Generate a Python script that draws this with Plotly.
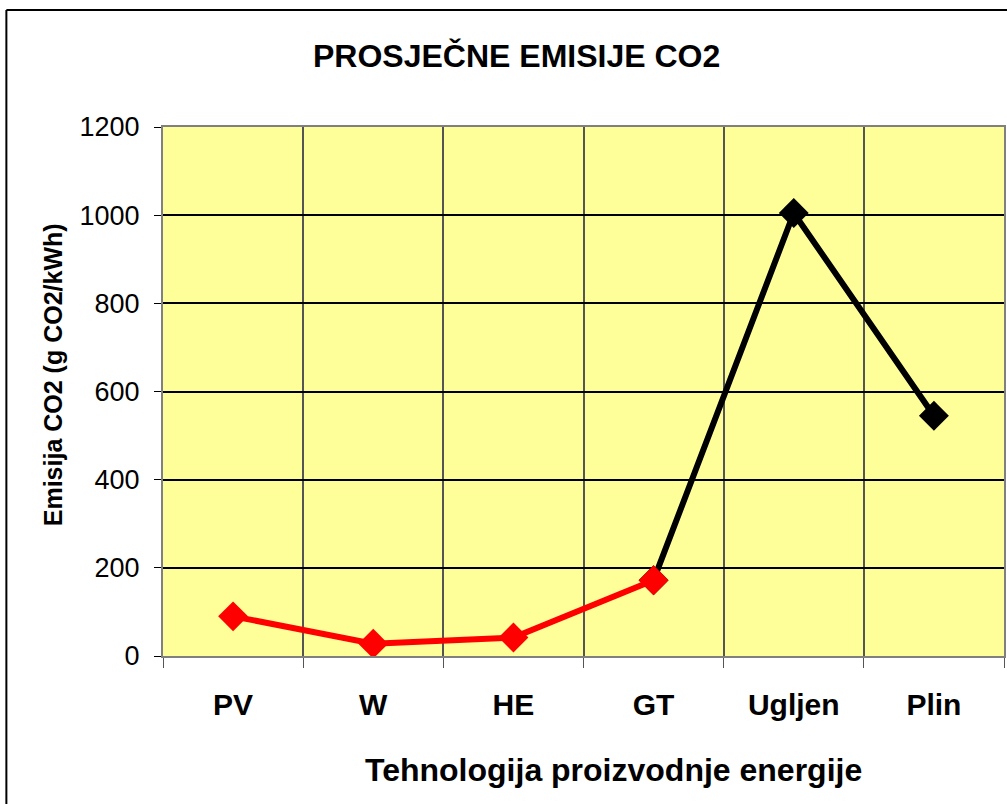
import plotly.graph_objects as go

categories = ["PV", "W", "HE", "GT", "Ugljen", "Plin"]
emisije_obnovljivi = [90, 28, 42, 172, None, None]
emisije_fosilni = [None, None, None, 172, 1005, 545]
y_ticks = [0, 200, 400, 600, 800, 1000, 1200]

W, H = 1007, 804
L, R, T, B = 163, 1006, 127, 656
font = "Liberation Sans, Arial, sans-serif"


def px_x(p):
    return (p - L) / (R - L)


def px_y(p):
    return (B - p) / (B - T)


fig = go.Figure()
fig.add_trace(go.Scatter(
    x=categories, y=emisije_fosilni, mode="lines+markers",
    line=dict(color="black", width=6),
    marker=dict(symbol="diamond", size=23, color="black"),
    connectgaps=False, showlegend=False))
fig.add_trace(go.Scatter(
    x=categories, y=emisije_obnovljivi, mode="lines+markers",
    line=dict(color="#ff0000", width=6),
    marker=dict(symbol="diamond", size=23, color="#ff0000"),
    connectgaps=False, showlegend=False))

fig.update_layout(
    width=W, height=H,
    margin=dict(l=L, r=W - R, t=T, b=H - B),
    paper_bgcolor="white",
    plot_bgcolor="#ffff99",
    font=dict(family=font, color="black"),
    xaxis=dict(
        type="category", tickson="boundaries", range=[-0.5, 5.5],
        showgrid=True, gridcolor="#555555", gridwidth=1.5,
        ticks="outside", ticklen=10, tickcolor="#555555",
        showline=True, linecolor="#808080", linewidth=2, mirror=True,
        tickfont=dict(size=30, family=font, weight="bold"),
        ticklabelstandoff=21,
    ),
    yaxis=dict(
        range=[0, 1200], tickvals=y_ticks,
        showgrid=True, gridcolor="black", gridwidth=1.5,
        ticks="outside", ticklen=7, tickcolor="black",
        showline=True, linecolor="#808080", linewidth=2, mirror=True,
        tickfont=dict(size=27, family=font),
        ticklabelstandoff=9, zeroline=False,
    ),
    annotations=[
        dict(text="<b>PROSJEČNE EMISIJE CO2</b>", xref="paper", yref="paper",
             x=px_x(517), y=px_y(56), xanchor="center", yanchor="middle",
             showarrow=False, font=dict(size=32, family=font)),
        dict(text="<b>Tehnologija proizvodnje energije</b>", xref="paper", yref="paper",
             x=px_x(615), y=px_y(770), xanchor="center", yanchor="middle",
             showarrow=False, font=dict(size=32, family=font)),
        dict(text="<b>Emisija CO2 (g CO2/kWh)</b>", xref="paper", yref="paper",
             x=px_x(53), y=px_y(375), xanchor="center", yanchor="middle",
             showarrow=False, textangle=-90, font=dict(size=25, family=font)),
    ],
    shapes=[
        dict(type="line", xref="paper", yref="paper",
             x0=px_x(6), x1=px_x(6), y0=px_y(10), y1=px_y(810),
             line=dict(color="black", width=2)),
        dict(type="line", xref="paper", yref="paper",
             x0=px_x(6), x1=px_x(1012), y0=px_y(10), y1=px_y(10),
             line=dict(color="black", width=2)),
    ],
)

# the page keeps the browser's 8px body margin otherwise
fig.write_html("out.html", config={"displayModeBar": False},
               post_script="document.body.style.margin='0';")
